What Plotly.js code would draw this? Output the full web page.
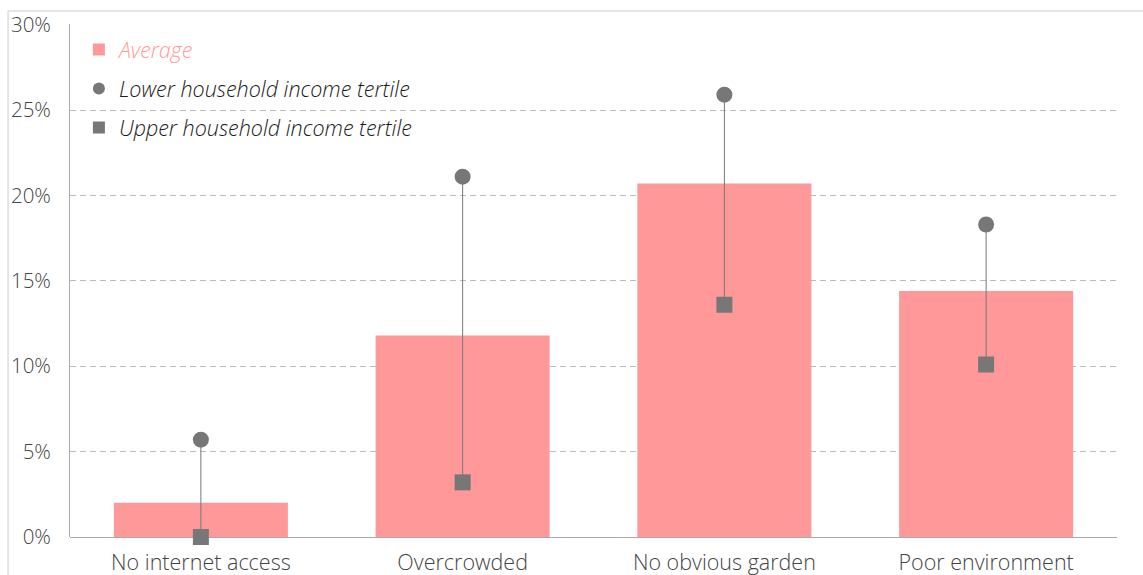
<!DOCTYPE html>
<html>
<head>
<meta charset="utf-8">
<script src="https://cdn.plot.ly/plotly-3.0.1.min.js"></script>
<style>
  html, body { margin: 0; padding: 0; background: #ffffff; }
  #chart { width: 1143px; height: 575px; }
</style>
</head>
<body>
<div id="chart"></div>
<script>
// Data (percent)
const categories = ["No internet access", "Overcrowded", "No obvious garden", "Poor environment"];
const averageValues = [2.0, 11.8, 20.7, 14.4];
const lowerTertileValues = [5.7, 21.1, 25.9, 18.3];
const upperTertileValues = [0.0, 3.2, 13.6, 10.1];
const yTickValues = [0, 5, 10, 15, 20, 25, 30];
const yTickLabels = ["0%", "5%", "10%", "15%", "20%", "25%", "30%"];

const grey = "#777777";
const pink = "#ff9999";

// connector segments between lower and upper tertile markers
const segX = [], segY = [];
categories.forEach((c, i) => {
  segX.push(c, c, null);
  segY.push(lowerTertileValues[i], upperTertileValues[i], null);
});

const traces = [
  {
    type: "bar",
    x: categories,
    y: averageValues,
    name: '<span style="color:#ff9999">Average</span>',
    marker: { color: pink },
    width: 0.665,
    legendgroup: "a",
    hoverinfo: "x+y"
  },
  {
    type: "scatter",
    mode: "lines",
    x: segX,
    y: segY,
    line: { color: grey, width: 1 },
    showlegend: false,
    hoverinfo: "skip",
    cliponaxis: false
  },
  {
    type: "scatter",
    mode: "markers",
    x: categories,
    y: lowerTertileValues,
    name: "Lower household income tertile",
    marker: { symbol: "circle", size: 16, color: grey },
    legendgroup: "b",
    cliponaxis: false
  },
  {
    type: "scatter",
    mode: "markers",
    x: categories,
    y: upperTertileValues,
    name: "Upper household income tertile",
    marker: { symbol: "square", size: 16, color: grey },
    legendgroup: "c",
    cliponaxis: false
  }
];

const layout = {
  width: 1143,
  height: 575,
  margin: { l: 70, r: 26, t: 24, b: 38 },
  paper_bgcolor: "#ffffff",
  plot_bgcolor: "#ffffff",
  font: { family: "'Open Sans', Roboto, sans-serif", size: 20, color: "#444444", weight: 300 },
  showlegend: true,
  legend: {
    x: 0.0085,
    y: 0.99,
    xanchor: "left",
    yanchor: "top",
    bgcolor: "rgba(0,0,0,0)",
    font: { size: 21.5, color: "#1a1a1a", style: "italic", weight: 300 },
    traceorder: "grouped",
    tracegroupgap: 8,
    itemsizing: "constant"
  },
  xaxis: {
    type: "category",
    categoryorder: "array",
    categoryarray: categories,
    showgrid: false,
    showline: false,
    zeroline: false,
    ticks: "",
    ticklabelstandoff: 10,
    tickfont: { size: 21.5, color: "#444444", weight: 300 },
    fixedrange: true
  },
  yaxis: {
    range: [0, 30.04],
    tickvals: yTickValues,
    ticktext: yTickLabels,
    showgrid: true,
    gridcolor: "#bbbbbb",
    gridwidth: 1,
    griddash: "6px,4px",
    showline: true,
    linecolor: "#aaaaaa",
    linewidth: 1,
    zeroline: true,
    zerolinecolor: "#aaaaaa",
    zerolinewidth: 1,
    ticks: "",
    ticklabelstandoff: 14,
    tickfont: { size: 20.5, color: "#444444", weight: 300 },
    fixedrange: true
  },
  shapes: [
    {
      type: "rect",
      xref: "paper", yref: "paper",
      x0: -0.0592, x1: 1.1,
      y0: -0.2, y1: 1.0253,
      line: { color: "#cccccc", width: 1 },
      fillcolor: "rgba(0,0,0,0)",
      layer: "below"
    }
  ]
};

Plotly.newPlot("chart", traces, layout, { displayModeBar: false, staticPlot: true });
</script>
</body>
</html>
